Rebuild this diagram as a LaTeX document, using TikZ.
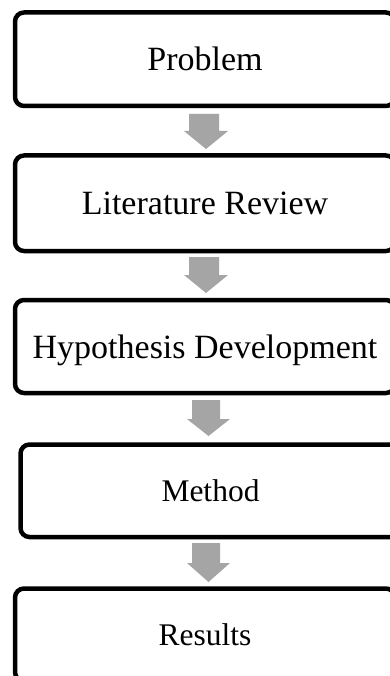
\documentclass[tikz,border=0pt]{standalone}
\usepackage{fontspec}
\setmainfont{Liberation Serif}
\definecolor{arrowgray}{HTML}{A5A5A5}
\tikzset{
  stepbox/.style={draw=black, line width=4.5pt, rounded corners=9pt, rectangle,
    inner sep=0pt, text depth=0pt, align=center},
  bigtxt/.style={font=\fontsize{34}{40}\selectfont, text height=23pt},
  smalltxt/.style={font=\fontsize{31.5}{37}\selectfont, text height=21.5pt},
  blockarrow/.style={fill=arrowgray, draw=none}
}
\newcommand{\myblockarrow}[7]{%
  \path[blockarrow] (#1,#5) -- (#2,#5) -- (#2,#6) -- (#4,#6) -- ({(#3+#4)/2},#7)
    -- (#3,#6) -- (#1,#6) -- cycle;}
\begin{document}
\begin{tikzpicture}[x=1pt,y=-1pt]
\useasboundingbox (0,0) rectangle (390,676);
\clip (0,0) rectangle (390,676);
\fill[white] (0,0) rectangle (390,676);
\node[stepbox, bigtxt, minimum width=380pt, minimum height=93.5pt] (b1) at (205,59.25) {Problem};
\node[stepbox, bigtxt, minimum width=380pt, minimum height=95.5pt] (b2) at (205,203.25) {Literature Review};
\node[stepbox, bigtxt, minimum width=380pt, minimum height=93pt] (b3) at (205,346.5) {Hypothesis Development};
\node[stepbox, smalltxt, minimum width=380pt, minimum height=92.5pt] (b4) at (210.5,490.75) {Method};
\node[stepbox, smalltxt, minimum width=380pt, minimum height=92.5pt] (b5) at (205,634.75) {Results};
\myblockarrow{189}{219}{184}{228}{114}{131}{149}
\myblockarrow{189}{219}{184}{228}{257}{275}{293}
\myblockarrow{192}{220}{187}{230}{400}{419}{436}
\myblockarrow{192}{220}{187}{230}{543}{563}{582}
\end{tikzpicture}
\end{document}
